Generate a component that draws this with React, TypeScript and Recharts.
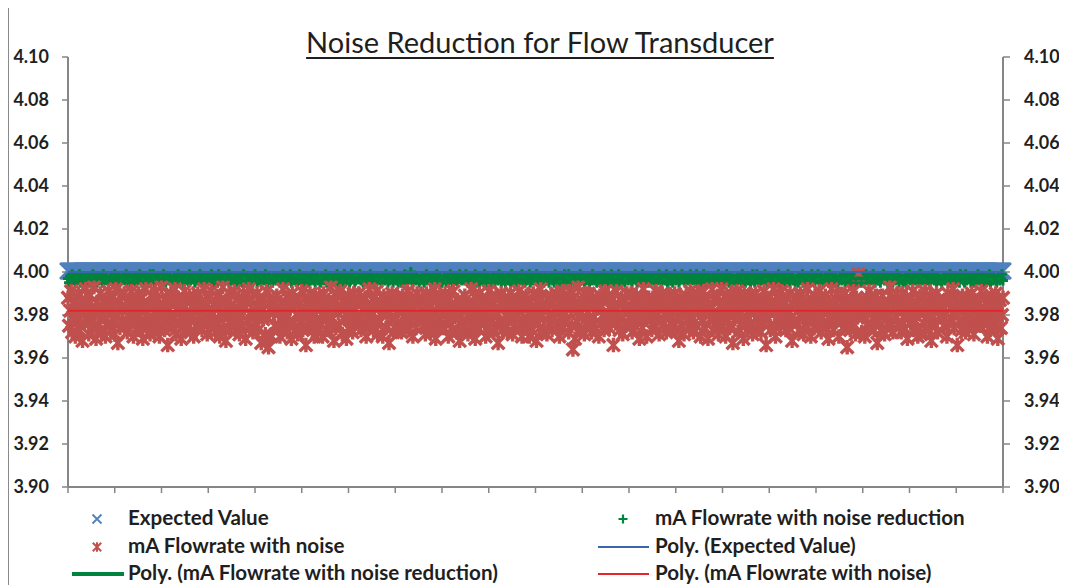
import React from 'react';
import { ScatterChart, Scatter, XAxis, YAxis } from 'recharts';

const X_TICKS = [0, 45, 90, 135, 180, 225, 270, 315, 360, 405, 450, 495, 540, 585, 630, 675, 720, 765, 810, 855, 900];
const Y_TICKS = [3.9, 3.92, 3.94, 3.96, 3.98, 4.0, 4.02, 4.04, 4.06, 4.08, 4.1];

const EXPECTED_VALUE = 4.0;

const NOISY: number[] = [
  3.988,3.975,3.982,3.991,3.972,3.979,3.986,3.970,3.984,3.977,3.990,3.973,3.981,3.987,3.968,3.983,3.976,3.992,3.979,3.985,
  3.971,3.989,3.978,3.983,3.974,3.993,3.980,3.969,3.986,3.975,3.982,3.990,3.972,3.984,3.979,3.987,3.970,3.981,3.976,3.991,
  3.983,3.973,3.988,3.978,3.985,3.971,3.992,3.980,3.967,3.986,3.974,3.989,3.977,3.982,3.990,3.975,3.984,3.972,3.987,3.979,
  3.976,3.991,3.981,3.970,3.986,3.978,3.984,3.973,3.990,3.980,3.975,3.988,3.969,3.983,3.977,3.992,3.974,3.985,3.979,3.971,
  3.989,3.977,3.984,3.972,3.991,3.980,3.975,3.987,3.970,3.982,3.993,3.976,3.985,3.973,3.981,3.988,3.966,3.983,3.978,3.990,
  3.974,3.986,3.979,3.992,3.971,3.983,3.988,3.976,3.981,3.969,3.985,3.978,3.991,3.973,3.987,3.980,3.975,3.989,3.972,3.984,
  3.980,3.970,3.987,3.975,3.983,3.990,3.975,3.979,3.986,3.973,3.982,3.992,3.977,3.984,3.971,3.988,3.979,3.974,3.991,3.981,
  3.985,3.978,3.972,3.989,3.976,3.983,3.970,3.987,3.980,3.993,3.974,3.981,3.968,3.986,3.979,3.990,3.973,3.984,3.977,3.982,
  3.991,3.973,3.982,3.978,3.988,3.971,3.985,3.980,3.975,3.990,3.983,3.969,3.986,3.977,3.992,3.974,3.981,3.987,3.972,3.979,
  3.976,3.984,3.990,3.973,3.980,3.987,3.967,3.982,3.978,3.985,3.971,3.991,3.979,3.965,3.988,3.983,3.970,3.986,3.981,3.975,
  3.983,3.989,3.974,3.981,3.970,3.986,3.978,3.992,3.975,3.984,3.980,3.972,3.988,3.977,3.983,3.969,3.990,3.976,3.985,3.973,
  3.987,3.971,3.980,3.985,3.977,3.991,3.973,3.982,3.988,3.966,3.979,3.986,3.974,3.990,3.981,3.976,3.984,3.970,3.989,3.978,
  3.972,3.984,3.988,3.976,3.983,3.970,3.990,3.979,3.985,3.973,3.981,3.987,3.975,3.993,3.978,3.982,3.968,3.986,3.974,3.989,
  3.981,3.975,3.991,3.984,3.971,3.987,3.978,3.983,3.969,3.980,3.989,3.974,3.985,3.977,3.972,3.990,3.982,3.976,3.986,3.979,
  3.990,3.978,3.973,3.986,3.982,3.975,3.988,3.970,3.984,3.979,3.992,3.976,3.981,3.987,3.973,3.983,3.977,3.991,3.971,3.985,
  3.977,3.986,3.981,3.970,3.989,3.983,3.974,3.980,3.987,3.967,3.984,3.978,3.990,3.972,3.985,3.979,3.988,3.975,3.982,3.973,
  3.984,3.972,3.989,3.979,3.975,3.986,3.981,3.991,3.973,3.983,3.977,3.988,3.970,3.985,3.980,3.974,3.990,3.978,3.986,3.982,
  3.979,3.988,3.975,3.983,3.971,3.990,3.977,3.985,3.980,3.972,3.987,3.982,3.976,3.992,3.969,3.981,3.984,3.974,3.989,3.978,
  3.986,3.974,3.982,3.990,3.978,3.984,3.970,3.988,3.976,3.981,3.973,3.991,3.979,3.985,3.972,3.987,3.983,3.968,3.980,3.975,
  3.973,3.985,3.989,3.977,3.983,3.971,3.986,3.980,3.992,3.975,3.984,3.978,3.969,3.988,3.981,3.974,3.990,3.976,3.983,3.987,
  3.982,3.976,3.970,3.987,3.979,3.991,3.974,3.984,3.978,3.986,3.972,3.981,3.989,3.975,3.967,3.983,3.977,3.990,3.973,3.985,
  3.988,3.980,3.975,3.972,3.985,3.978,3.990,3.983,3.971,3.987,3.979,3.974,3.986,3.982,3.991,3.976,3.984,3.970,3.988,3.977,
  3.975,3.989,3.983,3.978,3.970,3.986,3.981,3.973,3.990,3.977,3.984,3.968,3.987,3.979,3.974,3.992,3.980,3.985,3.972,3.983,
  3.984,3.971,3.987,3.980,3.976,3.989,3.973,3.985,3.979,3.982,3.990,3.975,3.983,3.970,3.986,3.978,3.991,3.974,3.981,3.988,
  3.978,3.986,3.972,3.991,3.983,3.975,3.964,3.988,3.969,3.984,3.977,3.993,3.982,3.973,3.987,3.979,3.985,3.971,3.990,3.976,
  3.981,3.990,3.977,3.985,3.972,3.988,3.979,3.985,3.974,3.986,3.983,3.970,3.989,3.976,3.984,3.980,3.973,3.991,3.978,3.987,
  3.989,3.974,3.984,3.979,3.987,3.966,3.982,3.976,3.991,3.980,3.985,3.973,3.978,3.988,3.971,3.983,3.986,3.975,3.990,3.981,
  3.976,3.983,3.990,3.972,3.980,3.986,3.975,3.989,3.978,3.984,3.969,3.987,3.981,3.974,3.992,3.979,3.985,3.970,3.983,3.988,
  3.985,3.978,3.973,3.988,3.982,3.975,3.991,3.980,3.986,3.971,3.984,3.977,3.990,3.983,3.976,3.987,3.972,3.981,3.989,3.974,
  3.980,3.987,3.982,3.976,3.990,3.973,3.985,3.979,3.968,3.988,3.983,3.975,3.986,3.971,3.981,3.989,3.977,3.984,3.974,3.991,
  3.986,
  3.979,3.972,3.988,3.983,3.975,3.990,3.981,3.986,3.970,3.984,3.977,3.991,3.974,3.982,3.987,3.969,3.985,3.978,3.983,3.992,
  3.973,3.987,3.980,3.976,3.989,3.971,3.984,3.979,3.992,3.975,3.986,3.982,3.970,3.988,3.977,3.983,3.974,3.990,3.981,3.967,
  3.986,3.978,3.983,3.991,3.972,3.980,3.988,3.975,3.984,3.969,3.990,3.977,3.985,3.973,3.982,3.989,3.976,3.987,3.971,3.984,
  3.981,3.990,3.974,3.985,3.979,3.987,3.972,3.983,3.976,3.991,3.980,3.966,3.988,3.978,3.984,3.973,3.986,3.982,3.992,3.975,
  3.970,3.983,3.989,3.977,3.984,3.975,3.991,3.982,3.978,3.986,3.973,3.988,3.981,3.974,3.990,3.979,3.968,3.985,3.977,3.987,
  3.988,3.976,3.982,3.973,3.990,3.984,3.979,3.971,3.986,3.981,3.975,3.992,3.978,3.983,3.970,3.987,3.980,3.974,3.989,3.982,
  3.975,3.985,3.991,3.980,3.972,3.987,3.976,3.983,3.989,3.974,3.981,3.969,3.986,3.978,3.992,3.984,3.973,3.979,3.985,3.990,
  3.983,3.970,3.978,3.988,3.982,3.974,3.986,3.990,3.977,3.965,3.984,3.980,3.973,3.987,3.976,3.991,3.982,3.971,3.988,3.979,
  3.999,3.981,3.986,3.972,3.979,3.985,3.970,3.983,3.988,3.976,3.991,3.974,3.982,3.987,3.978,3.973,3.989,3.984,3.967,3.980,
  3.977,3.984,3.973,3.989,3.986,3.971,3.982,3.978,3.985,3.980,3.993,3.975,3.988,3.972,3.983,3.986,3.979,3.990,3.976,3.984,
  3.985,3.972,3.990,3.979,3.974,3.983,3.988,3.969,3.981,3.987,3.976,3.984,3.991,3.973,3.980,3.977,3.986,3.970,3.982,3.989,
  3.971,3.988,3.983,3.976,3.991,3.978,3.985,3.982,3.973,3.989,3.968,3.980,3.986,3.984,3.975,3.990,3.972,3.987,3.979,3.983,
  3.984,3.979,3.975,3.987,3.981,3.970,3.990,3.976,3.986,3.983,3.978,3.992,3.974,3.981,3.988,3.966,3.985,3.977,3.983,3.973,
  3.989,3.982,3.977,3.972,3.985,3.988,3.974,3.981,3.979,3.990,3.984,3.971,3.987,3.976,3.982,3.986,3.979,3.975,3.991,3.978,
  3.976,3.983,3.988,3.980,3.970,3.986,3.982,3.973,3.989,3.978,3.985,3.975,3.990,3.981,3.969,3.984,3.987,3.974,3.980,3.988,
];

const REDUCED: number[] = [
  3.997,3.995,3.998,3.996,3.999,3.996,3.997,3.995,3.998,3.997,3.996,3.999,3.995,3.997,3.998,3.996,3.997,3.995,3.998,3.996,
  3.998,3.996,3.995,3.997,3.999,3.997,3.996,3.998,3.995,3.997,3.996,3.998,3.997,3.995,3.999,3.996,3.997,3.998,3.996,3.995,
  3.996,3.998,3.997,3.995,3.997,3.999,3.995,3.996,3.998,3.997,3.995,3.997,3.996,3.998,3.997,3.996,3.999,3.995,3.997,3.998,
  3.995,3.997,3.996,3.998,3.996,3.995,3.998,3.997,3.996,3.999,3.997,3.995,3.998,3.996,3.997,3.995,3.996,3.998,3.997,3.999,
  3.997,3.996,3.999,3.995,3.997,3.998,3.996,3.997,3.995,3.998,3.996,3.997,3.999,3.996,3.995,3.998,3.997,3.996,3.998,3.997,
  3.996,3.995,3.997,3.998,3.996,3.997,3.999,3.995,3.997,3.996,3.998,3.995,3.997,3.996,3.998,3.997,3.995,3.999,3.996,3.997,
  3.998,3.997,3.995,3.996,3.998,3.996,3.997,3.999,3.996,3.995,3.997,3.998,3.996,3.997,3.995,3.998,3.996,3.997,3.999,3.995,
  3.995,3.998,3.996,3.997,3.995,3.999,3.997,3.996,3.998,3.997,3.995,3.996,3.998,3.997,3.996,3.999,3.995,3.997,3.996,3.998,
  3.997,3.996,3.998,3.995,3.997,3.996,3.998,3.997,3.995,3.999,3.996,3.998,3.997,3.995,3.997,3.996,3.998,3.996,3.995,3.997,
  3.999,3.997,3.995,3.998,3.996,3.997,3.995,3.998,3.997,3.996,3.999,3.997,3.995,3.996,3.998,3.997,3.996,3.995,3.998,3.997,
  3.996,3.998,3.997,3.996,3.995,3.998,3.997,3.999,3.996,3.997,3.995,3.998,3.996,3.997,3.999,3.995,3.997,3.998,3.996,3.997,
  3.997,3.995,3.996,3.999,3.997,3.996,3.998,3.995,3.997,3.998,3.996,3.997,3.995,3.998,3.996,3.997,3.999,3.996,3.995,3.998,
  3.998,3.996,3.997,3.995,3.998,3.997,3.996,3.998,3.999,3.995,3.997,3.996,3.998,3.997,3.995,3.996,3.998,3.997,3.996,3.999,
  3.995,3.997,3.998,3.996,3.997,3.995,3.999,3.997,3.996,3.998,3.997,3.995,3.996,3.999,3.997,3.998,3.995,3.996,3.997,3.998,
  3.997,3.999,3.996,3.997,3.995,3.998,3.996,3.997,3.998,3.995,3.996,3.999,3.997,3.996,3.998,3.995,3.997,3.996,3.998,3.997,
  3.996,3.997,3.995,3.998,3.997,3.996,3.999,3.998,3.995,3.997,3.996,3.998,3.997,3.995,3.999,3.997,3.996,3.998,3.995,3.997,
  3.998,3.995,3.997,3.996,3.999,3.997,3.995,3.996,3.998,3.997,4.000,3.996,3.995,3.998,3.997,3.996,3.998,3.997,3.995,3.996,
  3.997,3.998,3.996,3.995,3.997,3.999,3.996,3.998,3.997,3.995,3.996,3.997,3.998,3.996,3.995,3.999,3.997,3.996,3.998,3.995,
  3.995,3.996,3.998,3.997,3.995,3.997,3.998,3.996,3.999,3.997,3.995,3.998,3.996,3.997,3.996,3.995,3.998,3.999,3.997,3.996,
  3.998,3.997,3.996,3.999,3.996,3.995,3.997,3.998,3.996,3.995,3.998,3.997,3.999,3.995,3.997,3.996,3.995,3.998,3.996,3.997,
  3.996,3.999,3.997,3.995,3.998,3.996,3.997,3.995,3.997,3.998,3.996,3.995,3.997,3.998,3.996,3.999,3.997,3.995,3.998,3.996,
  3.997,3.995,3.998,3.997,3.996,3.998,3.995,3.999,3.996,3.997,3.998,3.996,3.995,3.997,3.998,3.996,3.997,3.999,3.995,3.998,
  3.995,3.998,3.996,3.997,3.999,3.995,3.997,3.996,3.998,3.996,3.997,3.999,3.996,3.995,3.997,3.998,3.996,3.997,3.995,3.998,
  3.998,3.996,3.997,3.995,3.997,3.998,3.996,3.997,3.995,3.999,3.998,3.996,3.997,3.995,3.996,3.998,3.997,3.996,3.999,3.997,
  3.996,3.997,3.999,3.996,3.995,3.997,3.998,3.995,3.997,3.996,3.998,3.997,3.995,3.999,3.996,3.997,3.998,3.995,3.997,3.996,
  3.997,3.998,3.995,3.997,3.996,3.999,3.997,3.996,3.998,3.995,3.997,3.996,3.998,3.997,3.995,3.996,3.999,3.997,3.996,3.998,
  3.995,3.996,3.998,3.999,3.997,3.996,3.995,3.998,3.997,3.996,3.999,3.995,3.997,3.998,3.996,3.997,3.995,3.998,3.997,3.996,
  3.998,3.997,3.996,3.995,3.998,3.997,3.999,3.996,3.995,3.997,3.998,3.996,3.997,3.999,3.995,3.998,3.996,3.997,3.995,3.998,
  3.997,3.995,3.997,3.998,3.996,3.995,3.998,3.997,3.996,3.999,3.997,3.995,3.996,3.998,3.997,3.996,3.999,3.995,3.997,3.996,
  3.996,3.998,3.995,3.997,3.999,3.996,3.997,3.998,3.995,3.996,3.997,3.999,3.998,3.996,3.995,3.997,3.998,3.996,3.997,3.999,
  3.997,
  3.996,3.998,3.997,3.995,3.999,3.997,3.996,3.998,3.995,3.997,3.996,3.999,3.997,3.995,3.998,3.996,3.997,3.998,3.995,3.996,
  3.998,3.995,3.997,3.996,3.997,3.999,3.995,3.998,3.996,3.997,3.995,3.998,3.996,3.999,3.997,3.995,3.996,3.998,3.997,3.996,
  3.997,3.996,3.995,3.998,3.996,3.997,3.998,3.995,3.999,3.996,3.997,3.995,3.998,3.997,3.996,3.998,3.995,3.997,3.999,3.996,
  3.995,3.997,3.999,3.996,3.998,3.995,3.997,3.996,3.998,3.997,3.999,3.996,3.995,3.997,3.998,3.996,3.997,3.995,3.998,3.997,
  3.998,3.996,3.997,3.999,3.995,3.996,3.998,3.997,3.996,3.995,3.997,3.998,3.999,3.996,3.995,3.997,3.998,3.996,3.997,3.995,
  3.996,3.997,3.995,3.998,3.997,3.996,3.999,3.995,3.997,3.998,3.996,3.997,3.995,3.998,3.996,3.999,3.997,3.996,3.995,3.998,
  3.997,3.999,3.996,3.995,3.998,3.997,3.995,3.996,3.998,3.997,3.996,3.995,3.999,3.997,3.998,3.995,3.996,3.997,3.998,3.996,
  3.995,3.996,3.998,3.997,3.996,3.999,3.997,3.995,3.996,3.998,3.997,3.996,3.998,3.995,3.997,3.996,3.999,3.998,3.995,3.997,
  3.998,3.997,3.995,3.996,3.998,3.995,3.997,3.999,3.996,3.997,3.995,3.998,3.996,3.997,3.999,3.996,3.995,3.997,3.998,3.996,
  3.996,3.995,3.998,3.997,3.999,3.996,3.998,3.997,3.995,3.996,3.998,3.997,3.996,3.995,3.997,3.998,3.996,3.999,3.997,3.995,
  3.997,3.998,3.996,3.995,3.997,3.996,3.995,3.998,3.997,3.999,3.996,3.997,3.995,3.998,3.996,3.997,3.998,3.995,3.996,3.999,
  3.999,3.996,3.997,3.998,3.995,3.997,3.996,3.998,3.996,3.995,3.997,3.999,3.998,3.996,3.997,3.995,3.998,3.996,3.997,3.996,
  3.995,3.997,3.998,3.996,3.997,3.998,3.995,3.996,3.999,3.997,3.996,3.998,3.995,3.997,3.996,3.998,3.997,3.995,3.999,3.997,
  3.997,3.996,3.995,3.999,3.996,3.997,3.998,3.997,3.995,3.998,3.996,3.995,3.997,3.996,3.998,3.999,3.996,3.997,3.995,3.998,
  3.998,3.995,3.997,3.996,3.998,3.996,3.999,3.995,3.997,3.996,3.998,3.997,3.996,3.995,3.997,3.998,3.996,3.997,3.999,3.996,
];

const TREND_X = [0, 900];
const TREND_EXPECTED = [4.0, 4.0];
const TREND_REDUCED = [3.997, 3.997];
const TREND_NOISY = [3.982, 3.982];

const LEGEND_LABELS = [
  'Expected Value',
  'mA Flowrate with noise reduction',
  'mA Flowrate with noise',
  'Poly. (Expected Value)',
  'Poly. (mA Flowrate with noise reduction)',
  'Poly. (mA Flowrate with noise)',
];

const AXIS = '#868686';
const FONT = 'Lato, "Open Sans", sans-serif';
const TEXT = '#1f1f1f';
const C_BLUE = '#4F81BD';
const C_BLUE_LINE = '#3A66AC';
const C_GREEN = '#00843D';
const C_RED = '#C0504D';
const C_RED_LINE = '#E3262B';

const expectedPts = NOISY.map((_, i) => ({ x: i, y: EXPECTED_VALUE }));
const reducedPts = REDUCED.map((y, i) => ({ x: i, y }));
const noisyPts = NOISY.map((y, i) => ({ x: i, y }));
const trendExpected = TREND_X.map((x, i) => ({ x, y: TREND_EXPECTED[i] }));
const trendReduced = TREND_X.map((x, i) => ({ x, y: TREND_REDUCED[i] }));
const trendNoisy = TREND_X.map((x, i) => ({ x, y: TREND_NOISY[i] }));

const xPath = (cx: number, cy: number, r: number) =>
  `M${cx - r},${cy - r}L${cx + r},${cy + r}M${cx - r},${cy + r}L${cx + r},${cy - r}`;
const plusPath = (cx: number, cy: number, r: number) =>
  `M${cx - r},${cy}L${cx + r},${cy}M${cx},${cy - r}L${cx},${cy + r}`;
const starPath = (cx: number, cy: number, r: number) =>
  `${xPath(cx, cy, r)}M${cx},${cy - r * 1.15}L${cx},${cy + r * 1.15}`;

const BlueX = (p: any) =>
  p.cx == null ? <g /> : <path d={xPath(p.cx, p.cy - 1, 8)} stroke={C_BLUE} strokeWidth={2.6} fill="none" />;
const GreenPlus = (p: any) =>
  p.cx == null ? <g /> : <path d={plusPath(p.cx, p.cy, 5)} stroke={C_GREEN} strokeWidth={3} fill="none" />;
const RedStar = (p: any) =>
  p.cx == null ? <g /> : <path d={starPath(p.cx, p.cy, 6.3)} stroke={C_RED} strokeWidth={3.4} fill="none" />;
const Empty = () => <g />;

const tickStyle = { fontFamily: FONT, fontSize: 18, fontWeight: 700, fill: TEXT };

function LegendOverlay() {
  const r1 = 514, r2 = 542, r3 = 569;
  const t1 = 520, t2 = 547.5, t3 = 575;
  const c1m = 88, c1t = 119, c2m = 614, c2t = 646;
  const txt = (x: number, y: number, s: string) => (
    <text x={x} y={y} fontFamily={FONT} fontSize={20.6} fontWeight={700} fill={TEXT}>{s}</text>
  );
  return (
    <svg width={1058} height={580} style={{ position: 'absolute', left: 0, top: 0, pointerEvents: 'none' }}>
      <path d={xPath(c1m, r1, 4.5)} stroke={C_BLUE} strokeWidth={1.8} fill="none" />
      {txt(c1t, t1, LEGEND_LABELS[0])}
      <path d={plusPath(c2m, r1, 4.5)} stroke={C_GREEN} strokeWidth={2.2} fill="none" />
      {txt(c2t, t1, LEGEND_LABELS[1])}
      <path d={starPath(c1m, r2, 4.2)} stroke={C_RED} strokeWidth={2} fill="none" />
      {txt(c1t, t2, LEGEND_LABELS[2])}
      <line x1={589} x2={640} y1={r2} y2={r2} stroke={C_BLUE_LINE} strokeWidth={2} />
      {txt(c2t, t2, LEGEND_LABELS[3])}
      <line x1={63} x2={115} y1={r3} y2={r3} stroke={C_GREEN} strokeWidth={4} />
      {txt(c1t, t3, LEGEND_LABELS[4])}
      <line x1={589} x2={640} y1={r3} y2={r3} stroke={C_RED_LINE} strokeWidth={2} />
      {txt(c2t, t3, LEGEND_LABELS[5])}
    </svg>
  );
}

export default function App() {
  return (
    <div
      style={{
        position: 'relative',
        marginTop: -4,
        width: 1058,
        height: 580,
        borderTop: '1px solid #8a8a8a',
        borderLeft: '1px solid #8a8a8a',
        background: '#fff',
      }}
    >
      <style>{'html,body{overflow:hidden;}'}</style>
      <ScatterChart width={1080} height={580} margin={{ top: 52, right: 0, bottom: 68, left: 0 }}>
        <XAxis
          type="number"
          dataKey="x"
          domain={[0, 900]}
          ticks={X_TICKS}
          interval={0}
          tickFormatter={() => ''}
          tickSize={6}
          height={30}
          axisLine={{ stroke: AXIS, strokeWidth: 2 }}
          tickLine={{ stroke: AXIS, strokeWidth: 1.5 }}
        />
        <YAxis
          yAxisId="l"
          type="number"
          dataKey="y"
          domain={[3.9, 4.1]}
          ticks={Y_TICKS}
          interval={0}
          tickFormatter={(v: number) => v.toFixed(2)}
          width={59}
          tickSize={6}
          tickMargin={13}
          tick={tickStyle}
          axisLine={{ stroke: AXIS, strokeWidth: 2 }}
          tickLine={{ stroke: AXIS, strokeWidth: 1.5 }}
        />
        <YAxis
          yAxisId="r"
          orientation="right"
          type="number"
          dataKey="y"
          domain={[3.9, 4.1]}
          ticks={Y_TICKS}
          interval={0}
          tickFormatter={(v: number) => v.toFixed(2)}
          width={86}
          tickSize={7}
          tickMargin={14}
          tick={tickStyle}
          axisLine={{ stroke: AXIS, strokeWidth: 2 }}
          tickLine={{ stroke: AXIS, strokeWidth: 1.5 }}
        />
        <Scatter yAxisId="l" name={LEGEND_LABELS[0]} data={expectedPts} shape={BlueX} isAnimationActive={false} />
        <Scatter yAxisId="l" name={LEGEND_LABELS[1]} data={reducedPts} shape={GreenPlus} isAnimationActive={false} />
        <Scatter yAxisId="l" name={LEGEND_LABELS[2]} data={noisyPts} shape={RedStar} isAnimationActive={false} />
        <Scatter
          yAxisId="l"
          name={LEGEND_LABELS[3]}
          data={trendExpected}
          shape={Empty}
          line={{ stroke: C_BLUE_LINE, strokeWidth: 2 }}
          isAnimationActive={false}
        />
        <Scatter
          yAxisId="l"
          name={LEGEND_LABELS[4]}
          data={trendReduced}
          shape={Empty}
          line={{ stroke: C_GREEN, strokeWidth: 4 }}
          isAnimationActive={false}
        />
        <Scatter
          yAxisId="r"
          name={LEGEND_LABELS[5]}
          data={trendNoisy}
          shape={Empty}
          line={{ stroke: C_RED_LINE, strokeWidth: 2 }}
          isAnimationActive={false}
        />
      </ScatterChart>
      <div
        style={{
          position: 'absolute',
          left: 531,
          top: 22,
          transform: 'translateX(-50%)',
          whiteSpace: 'nowrap',
          fontFamily: FONT,
          fontSize: 29,
          lineHeight: '29px',
          color: TEXT,
          textDecoration: 'underline',
          textDecorationThickness: '2px',
          textUnderlineOffset: '4px',
        }}
      >
        Noise Reduction for Flow Transducer
      </div>
      <LegendOverlay />
    </div>
  );
}
